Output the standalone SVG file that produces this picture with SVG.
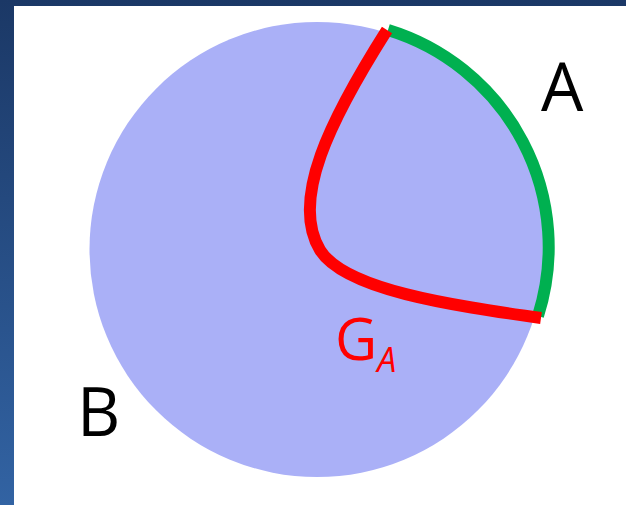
<svg xmlns="http://www.w3.org/2000/svg" width="626" height="505" viewBox="0 0 626 505">
<defs>
<linearGradient id="bg" x1="0" y1="0" x2="0" y2="1">
<stop offset="0" stop-color="#1b3866"/>
<stop offset="1" stop-color="#3263a3"/>
</linearGradient>
<style>
.lbl{font-family:"Open Sans","DejaVu Sans",sans-serif;fill:#000;font-size:67px}
.red{font-family:"Open Sans","DejaVu Sans",sans-serif;fill:#ff0000}
</style>
</defs>
<rect x="0" y="0" width="626" height="505" fill="url(#bg)"/>
<rect x="14" y="6" width="612" height="499" fill="#ffffff"/>
<g id="B">
<circle cx="317" cy="249.5" r="227.5" fill="#aab0f7"/>
<text class="lbl" x="77" y="436">B</text>
</g>
<g id="A">
<text class="lbl" x="541" y="111">A</text>
</g>
<g id="connectors" fill="none">
<path d="M 388 30 A 227 227 0 0 1 538 316" stroke="#00b050" stroke-width="12"/>
<path d="M 387 30 C 330 120, 290 200, 320 250 C 345 290, 450 305, 541 318" stroke="#ff0000" stroke-width="12"/>
</g>
<g id="GA">
<text class="red" x="335" y="360" font-size="58">G<tspan font-size="34" font-style="italic" dy="12">A</tspan></text>
</g>
</svg>
